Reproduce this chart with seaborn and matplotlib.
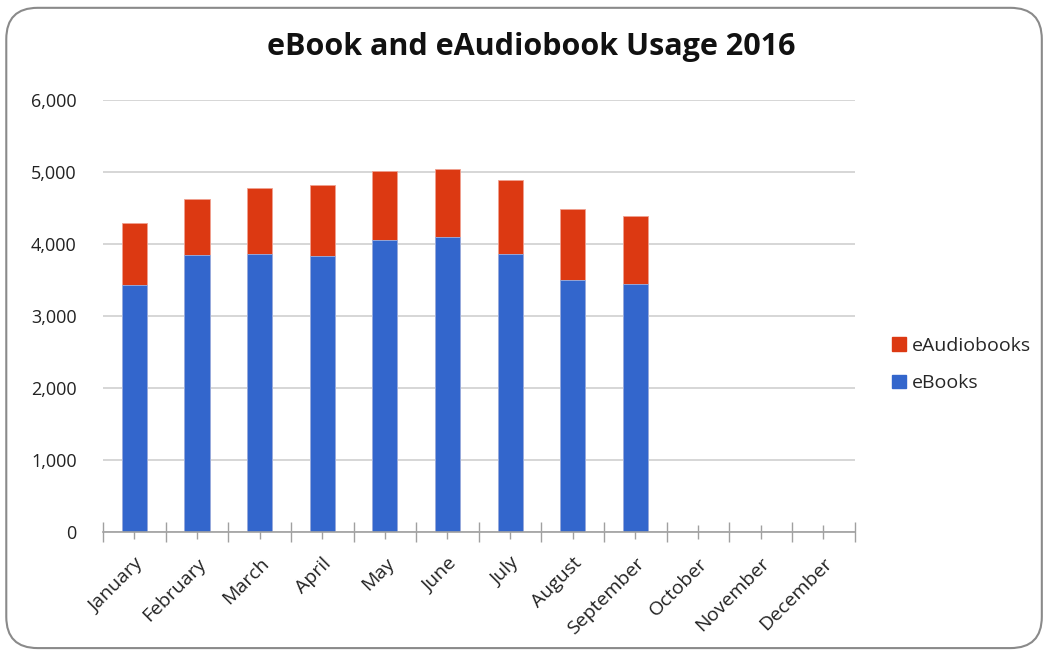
import numpy as np
import pandas as pd
import matplotlib.pyplot as plt
import seaborn as sns
from matplotlib.patches import FancyBboxPatch, Patch

months = ['January', 'February', 'March', 'April', 'May', 'June', 'July',
          'August', 'September', 'October', 'November', 'December']
ebooks = [3430, 3847, 3866, 3833, 4056, 4093, 3866, 3495, 3449]
eaudiobooks = [857, 782, 916, 982, 962, 953, 1027, 995, 944]
yticks = [0, 1000, 2000, 3000, 4000, 5000, 6000]

blue = '#3366cc'
red = '#dc3912'

df = pd.DataFrame({'month': months[:len(ebooks)],
                   'eBooks': ebooks,
                   'eAudiobooks': eaudiobooks})
df['total'] = df['eBooks'] + df['eAudiobooks']

sns.set_style('white')
plt.rcParams['font.family'] = ['Open Sans', 'DejaVu Sans']

fig = plt.figure(figsize=(10.46, 6.52), dpi=100)
ax = fig.add_axes([0.0985, 0.184, 0.7185, 0.6626])

# stacked: draw total in red, then eBooks in blue over it
sns.barplot(data=df, x='month', y='total', order=months, color=red,
            width=0.4, saturation=1, edgecolor='#f0a090', linewidth=0.6, ax=ax)
sns.barplot(data=df, x='month', y='eBooks', order=months, color=blue,
            width=0.4, saturation=1, edgecolor='#99b3e6', linewidth=0.6, ax=ax)

ax.set_xlim(-0.5, 11.5)
ax.set_ylim(0, 6000)
ax.set_yticks(yticks)
ax.set_yticklabels([f'{v:,}' for v in yticks], fontsize=13, color='#222222')
ax.yaxis.grid(True, color='#d0d0d0', linewidth=1.2)
ax.set_axisbelow(True)
ax.set_xlabel('')
ax.set_ylabel('')

ax.set_xticks(range(12))
ax.set_xticklabels(months, rotation=45, ha='right', rotation_mode='anchor',
                   fontsize=14, color='#222222')
ax.set_xticks(np.arange(-0.5, 12, 1), minor=True)
ax.tick_params(axis='x', which='major', direction='inout', length=10,
               color='#a0a0a0', width=1, pad=11, bottom=True)
ax.tick_params(axis='x', which='minor', direction='inout', length=14,
               color='#a0a0a0', width=1, bottom=True)
ax.tick_params(axis='y', length=0, pad=19)

for s in ['top', 'right', 'left']:
    ax.spines[s].set_visible(False)
ax.spines['bottom'].set_color('#a0a0a0')
ax.spines['bottom'].set_linewidth(1.2)

handles = [Patch(color=red, label='eAudiobooks'), Patch(color=blue, label='eBooks')]
fig.legend(handles=handles, loc='center left', bbox_to_anchor=(0.836, 0.441),
           frameon=False, fontsize=14, handlelength=0.7, handleheight=0.7,
           handletextpad=0.3, labelspacing=1.0)

fig.text(0.508, 0.928, 'eBook and eAudiobook Usage 2016', ha='center', va='center',
         fontsize=22, fontweight='bold', color='#111111')

border = FancyBboxPatch((0.006, 0.006), 0.99, 0.982, boxstyle='round,pad=0,rounding_size=0.03',
                        transform=fig.transFigure, facecolor='none', edgecolor='#8a8a8a',
                        linewidth=1.5, mutation_aspect=1.6)
fig.patches.append(border)

fig.savefig('out.png', dpi=100)
